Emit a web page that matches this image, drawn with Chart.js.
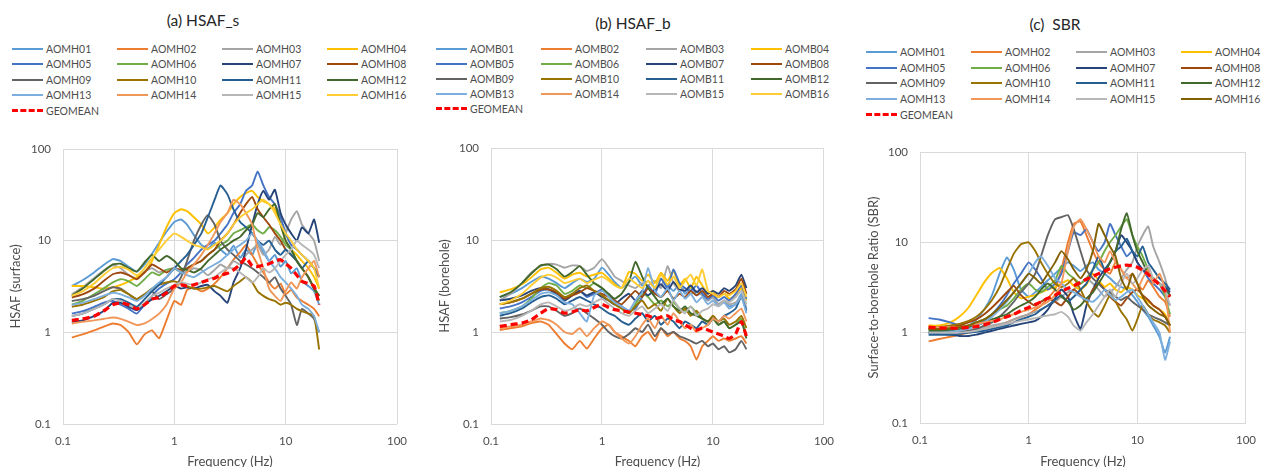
<!DOCTYPE html>
<html>
<head>
<meta charset="utf-8">
<script src="https://cdn.jsdelivr.net/npm/chart.js@4.4.1/dist/chart.umd.min.js"></script>
<style>
    body { margin: 0; width: 1266px; height: 467px; overflow: hidden; background: #fff; font-family: Lato, 'Open Sans', sans-serif; }
    .panel { position: absolute; top: 0; width: 422px; height: 476px; }
    .panel canvas { position: absolute; left: 0; top: 0; }
    .ptitle { position: absolute; width: 422px; text-align: center; font-size: 15.5px; color: #262626; line-height: 18px; }
    .legend { position: absolute; display: grid; grid-template-columns: repeat(4, 105px); }
    .legend .item { display: flex; align-items: center; font-size: 10.5px; color: #4d4d4d; white-space: nowrap; }
    .legend .swatch { width: 31px; height: 0; margin-right: 3px; }
</style>
</head>
<body>
<div class="panel" style="left:0px">
    <div class="ptitle" style="left:-8px; top:11px">(a) HSAF_s</div>
    <div class="legend" id="legendA" style="left:12px; top:41px; grid-auto-rows:15.5px"></div>
    <canvas id="chartA" width="422" height="476"></canvas>
</div>
<div class="panel" style="left:422px">
    <div class="ptitle" style="left:0px; top:14px">(b) HSAF_b</div>
    <div class="legend" id="legendB" style="left:14px; top:41px; grid-auto-rows:15px"></div>
    <canvas id="chartB" width="422" height="476"></canvas>
</div>
<div class="panel" style="left:844px">
    <div class="ptitle" style="left:0px; top:15px">(c)&nbsp; SBR</div>
    <div class="legend" id="legendC" style="left:22px; top:44px; grid-auto-rows:15.7px"></div>
    <canvas id="chartC" width="422" height="476"></canvas>
</div>

<script>
// frequencies (Hz) shared by every station curve
const freqHz = [0.12, 0.15, 0.19, 0.23, 0.28, 0.33, 0.39, 0.46, 0.54, 0.63, 0.73, 0.85, 1.0, 1.15, 1.3, 1.5, 1.75, 2.0, 2.3, 2.6, 3.0, 3.4, 3.9, 4.4, 5.0, 5.6, 6.3, 7.1, 8.0, 9.0, 10, 11.2, 12.6, 14, 16, 18, 20];
const axisTicks = [0.1, 1, 10, 100];

const surfaceNames = ['AOMH01', 'AOMH02', 'AOMH03', 'AOMH04', 'AOMH05', 'AOMH06', 'AOMH07', 'AOMH08',
    'AOMH09', 'AOMH10', 'AOMH11', 'AOMH12', 'AOMH13', 'AOMH14', 'AOMH15', 'AOMH16'];
const boreholeNames = ['AOMB01', 'AOMB02', 'AOMB03', 'AOMB04', 'AOMB05', 'AOMB06', 'AOMB07', 'AOMB08',
    'AOMB09', 'AOMB10', 'AOMB11', 'AOMB12', 'AOMB13', 'AOMB14', 'AOMB15', 'AOMB16'];

const colorsAB = ['#5B9BD5', '#ED7D31', '#A5A5A5', '#FFC000', '#4472C4', '#70AD47', '#264478', '#9E480E',
    '#636363', '#997300', '#255E91', '#43682B', '#7CAFDD', '#F1975A', '#B7B7B7', '#FFCD33'];
const colorsC = ['#5B9BD5', '#ED7D31', '#A5A5A5', '#FFC000', '#4472C4', '#70AD47', '#264478', '#9E480E',
    '#636363', '#997300', '#255E91', '#43682B', '#7CAFDD', '#F1975A', '#B7B7B7', '#806000'];

// (a) HSAF at surface
const hsafSurface = [
    [3.2,3.7,4.5,5.4,6.3,6.0,5.2,4.6,5.5,7.2,9.5,12.5,16,17,15,11.5,9,8.2,9.5,8,7,8.8,6.5,8,7,9.5,7.5,6,7,5.2,6,4.4,5,3.6,3.2,2.8,2.0],
    [0.88,0.95,1.05,1.15,1.25,1.2,1.0,0.74,0.95,1.05,0.86,1.35,2.2,2.0,2.9,3.1,2.8,3.0,3.4,4.0,5.0,6.2,7.5,9.0,7.0,5.5,4.5,3.5,3.0,3.4,2.6,2.9,2.4,2.2,2.0,1.8,1.5],
    [2.6,3.1,3.9,4.7,5.4,5.0,4.2,3.9,4.6,5.0,4.5,4.8,5.0,4.5,4.6,5.0,4.8,4.2,4.8,5.5,5.0,6.0,5.5,7.0,8.0,9.0,7.0,8.0,11,9.0,12,17,21,15,12,10,6.0],
    [3.2,3.2,3.1,3.0,3.1,3.3,3.6,4.0,4.5,6.0,9.0,14,20,22,21,18,15,12,14,17,20,25,30,33,35,30,27,25,22,15,10,8.0,7.0,6.0,5.0,4.0,3.0],
    [1.6,1.7,1.9,2.1,2.2,2.0,1.8,1.6,2.0,2.5,3.0,3.4,3.8,4.5,5.5,6.5,8.0,9.0,10,12,15,20,25,35,40,57,40,30,25,18,12,9.0,8.0,7.0,6.0,5.0,4.0],
    [2.0,2.2,2.6,3.0,3.5,3.8,3.6,3.2,3.8,4.5,4.2,4.8,5.0,4.5,5.0,5.5,6.0,7.0,8.0,9.0,10,12,13,14,15,13,12,14,13,11,9.0,8.0,6.0,5.0,4.0,3.0,2.2],
    [1.3,1.35,1.5,1.7,2.1,2.1,1.9,1.75,2.0,2.3,2.5,2.8,3.2,3.0,3.1,3.0,3.2,3.3,2.8,2.5,2.1,3.5,5.0,8.0,15,25,35,28,36,20,15,12,10,14,12,17,9.5],
    [2.4,2.6,3.0,3.6,4.3,4.5,4.2,3.8,4.5,5.5,5.0,4.5,5.0,4.8,5.0,5.5,6.0,7.0,8.0,10,12,15,20,25,30,22,18,15,12,10,8.0,7.0,6.0,5.0,4.0,3.0,2.5],
    [2.2,2.3,2.5,2.8,3.1,3.0,2.6,2.3,2.6,2.8,2.3,2.6,3.0,4.0,6.0,10,15,19,15,10,8.0,7.0,6.0,5.5,5.0,4.5,4.0,3.5,4.0,3.0,2.5,2.0,1.2,1.8,1.6,1.4,1.0],
    [1.9,2.0,2.2,2.4,2.8,2.9,2.6,2.3,2.6,3.0,3.3,3.5,3.6,3.4,3.2,3.0,3.0,3.1,3.2,3.0,2.8,3.2,3.6,4.0,3.5,2.8,2.5,2.3,2.2,2.0,2.1,2.0,1.8,1.7,1.6,1.5,0.65],
    [1.5,1.6,1.8,2.0,2.3,2.3,2.1,1.9,2.3,2.8,3.3,4.0,5.0,6.0,7.0,9.0,12,18,28,40,32,22,16,14,12,10,9.0,10,8.0,7.0,8.0,7.0,6.0,5.0,6.0,5.0,4.0],
    [2.5,3.0,3.8,4.6,5.5,5.6,5.0,4.6,5.8,7.0,6.0,6.8,6.0,5.0,4.8,4.5,5.0,6.0,7.0,8.0,9.0,10,11,13,15,20,18,22,25,15,10,8.0,6.0,5.0,4.0,3.0,2.5],
    [2.0,2.1,2.3,2.5,2.7,2.6,2.4,2.2,2.5,3.0,3.5,4.0,5.0,4.5,4.2,4.0,4.5,5.0,5.5,6.0,7.0,8.0,9.0,10,12,10,8.0,6.0,5.0,4.0,3.5,3.0,2.5,2.0,1.8,1.5,1.0],
    [1.25,1.3,1.35,1.4,1.45,1.4,1.3,1.2,1.25,1.4,1.6,2.0,3.0,3.5,4.5,5.5,7.0,9.0,12,16,20,28,25,20,15,8.0,5.0,3.0,2.5,2.2,2.8,3.5,3.0,4.0,5.0,6.0,4.0],
    [1.5,1.6,1.8,2.0,2.3,2.2,2.0,1.8,2.1,2.5,2.7,3.0,3.3,3.5,3.4,3.3,3.5,3.8,4.0,4.5,5.0,5.0,4.5,4.0,3.5,4.0,5.0,4.5,5.0,6.0,7.0,8.0,10,9.0,8.0,7.0,5.0],
    [2.5,2.8,3.4,4.2,5.0,5.2,4.8,4.2,5.0,6.5,8.0,10,12,11,10,9.0,8.5,8.0,9.0,10,12,15,18,20,22,25,28,25,20,15,12,10,8.0,7.0,6.0,5.0,3.0]
];
const hsafSurfaceGeo = [1.35,1.4,1.5,1.7,2.0,2.1,2.0,1.8,2.0,2.3,2.4,2.7,3.2,3.3,3.2,3.3,3.5,3.7,3.9,4.2,4.4,4.8,5.5,6.5,5.3,5.2,5.4,5.6,6.0,6.2,5.6,5.0,4.2,3.6,3.4,3.2,2.0];

// (b) HSAF at borehole
const hsafBorehole = [
    [2.4,2.6,3.0,3.5,4.0,3.8,3.4,3.0,3.4,3.8,3.5,3.8,5.0,4.2,3.5,3.0,3.5,4.0,3.2,3.6,3.0,3.8,3.2,2.8,3.3,2.6,3.0,2.5,2.7,2.2,2.4,2.0,2.2,1.9,2.0,2.6,1.8],
    [1.05,1.1,1.15,1.25,1.3,1.2,0.95,0.75,0.65,0.8,0.66,0.85,1.1,1.2,1.0,0.9,0.8,0.7,0.9,1.0,0.8,1.1,0.9,1.0,0.85,0.8,0.7,0.5,0.7,0.8,0.9,0.8,0.85,0.8,0.85,0.9,0.75],
    [2.2,2.6,3.4,4.4,5.2,5.5,5.4,5.0,5.3,5.2,4.6,5.0,6.2,5.0,4.0,3.6,3.2,3.0,3.4,3.2,3.6,3.0,5.2,3.4,2.8,3.0,2.6,2.8,2.5,2.2,2.4,2.0,2.2,2.0,2.1,2.4,1.8],
    [2.7,2.9,3.3,3.9,4.8,5.0,4.4,3.8,4.2,4.4,4.0,4.2,4.4,3.8,3.3,3.0,4.5,4.3,3.6,4.2,3.4,4.4,3.6,4.6,3.2,3.8,3.0,4.0,3.2,2.6,2.8,2.4,2.6,2.3,2.5,3.0,2.2],
    [1.8,1.9,2.1,2.4,2.8,2.9,2.6,2.3,2.6,2.8,2.4,2.6,2.9,2.5,2.2,1.9,1.7,1.8,2.4,3.2,2.6,3.8,3.0,4.8,3.4,3.0,2.8,3.2,2.6,2.3,2.5,2.2,2.4,2.2,2.6,3.2,2.3],
    [1.6,1.7,1.9,2.3,3.0,3.4,3.2,2.6,2.8,3.2,3.0,3.4,3.0,2.4,2.0,1.8,1.6,2.0,2.6,2.4,2.0,2.2,1.9,2.1,1.8,1.7,1.9,1.6,1.4,1.3,1.4,1.2,1.3,1.1,1.2,1.4,0.9],
    [2.2,2.3,2.5,2.8,3.0,2.9,2.6,2.2,2.5,2.8,2.5,2.7,2.4,2.2,2.0,2.3,2.6,2.2,2.8,2.5,2.9,3.3,2.8,3.5,2.9,2.8,3.2,2.7,3.0,2.6,2.8,2.6,3.0,2.8,3.2,4.2,3.0],
    [2.0,2.1,2.3,2.6,2.9,2.9,2.7,2.3,2.5,2.7,3.0,2.8,2.6,2.4,2.2,2.0,2.4,2.8,2.4,3.0,2.6,2.4,2.8,2.3,2.6,2.4,2.8,2.5,2.8,2.4,2.6,2.4,2.8,2.6,2.9,3.8,2.6],
    [1.4,1.45,1.55,1.7,1.9,1.9,1.7,1.5,1.6,1.8,1.6,1.4,1.2,1.0,0.9,0.85,0.95,1.1,1.0,1.2,0.9,1.1,0.95,1.0,0.9,0.85,0.8,0.75,0.8,0.7,0.75,0.65,0.7,0.6,0.65,0.8,0.65],
    [2.0,2.1,2.3,2.6,3.0,3.1,2.8,2.4,2.6,3.0,3.2,2.8,2.5,2.2,2.0,1.8,1.6,1.9,2.2,1.8,2.0,1.7,2.3,1.9,1.6,1.8,1.5,1.7,1.4,1.3,1.5,1.3,1.4,1.2,1.3,1.5,1.1],
    [1.5,1.6,1.8,2.1,2.4,2.5,2.3,2.0,2.2,2.4,2.2,2.0,1.8,1.6,1.5,1.3,1.2,1.4,1.6,1.3,1.5,1.2,1.4,1.3,1.1,1.3,1.2,1.1,1.3,1.2,1.4,1.3,1.5,1.6,1.8,2.4,1.7],
    [2.4,2.7,3.4,4.3,5.3,5.4,4.8,4.0,4.5,5.2,4.2,3.4,3.0,2.6,2.3,2.6,3.5,5.8,4.0,3.0,2.4,2.0,2.3,1.9,1.7,1.9,1.6,1.5,1.4,1.3,1.4,1.2,1.3,1.1,1.2,1.3,0.85],
    [1.6,1.7,1.9,2.2,2.6,2.7,2.5,2.1,2.0,1.6,1.3,2.5,2.8,2.4,2.1,1.9,1.7,2.2,2.7,5.0,2.8,2.4,3.0,2.2,2.8,2.3,2.6,2.1,2.4,2.0,2.2,1.9,2.1,1.8,2.0,2.4,1.6],
    [1.1,1.15,1.2,1.3,1.4,1.35,1.2,1.0,0.95,1.1,0.9,1.1,1.3,1.2,1.0,0.85,0.75,0.9,1.2,1.4,1.1,1.5,1.2,1.6,1.3,1.1,1.2,1.0,1.1,1.2,1.4,1.3,1.5,1.4,1.6,1.8,1.3],
    [1.3,1.35,1.5,1.7,2.0,2.1,1.9,1.7,1.8,2.0,1.9,2.1,2.3,2.0,1.8,1.6,1.5,1.7,1.9,1.6,1.8,2.0,1.7,2.2,1.8,1.6,1.9,1.5,1.7,1.8,2.0,1.9,2.2,2.1,2.4,2.8,2.0],
    [2.0,2.2,2.6,3.2,3.9,4.2,3.9,3.4,3.6,3.8,3.4,3.7,4.0,3.6,3.2,3.0,3.8,3.4,3.0,3.6,3.0,4.2,3.3,4.0,3.0,3.6,4.2,3.2,4.8,2.8,2.6,2.4,2.6,2.5,2.8,3.4,2.4]
];
const hsafBoreholeGeo = [1.15,1.2,1.25,1.35,1.6,1.8,1.75,1.6,1.65,1.75,1.7,1.85,2.0,1.85,1.75,1.7,1.65,1.6,1.55,1.5,1.4,1.45,1.5,1.35,1.3,1.2,1.1,1.05,1.1,1.05,1.0,0.95,0.9,0.85,0.95,1.3,0.9];

// (c) surface-to-borehole ratio
const sbr = [
    [1.0,1.0,1.05,1.1,1.2,1.4,1.8,2.6,4.5,6.8,5.0,3.0,2.5,2.8,3.2,3.8,4.5,5.2,6.0,5.5,4.8,5.5,6.0,5.0,4.5,4.0,3.5,3.2,3.0,2.6,2.2,1.8,1.5,1.2,0.9,0.6,0.9],
    [0.8,0.85,0.9,0.95,1.0,1.05,1.1,1.15,1.2,1.3,1.4,1.5,1.6,1.8,2.0,2.4,3.0,5.0,10,16,17,12,8.0,6.0,5.0,4.5,6.0,5.0,4.0,4.5,3.5,3.0,3.8,3.2,2.5,2.2,1.5],
    [1.0,1.0,1.0,1.02,1.05,1.1,1.15,1.2,1.25,1.3,1.4,1.5,1.6,1.7,1.8,2.0,2.2,2.5,2.8,3.0,3.5,4.0,3.5,3.0,2.5,2.8,3.2,4.0,5.0,6.0,9.0,12,15,9.0,6.0,4.0,2.5],
    [1.2,1.2,1.3,1.5,1.9,2.6,3.6,4.6,5.2,4.0,2.8,2.4,2.5,2.6,2.8,3.0,3.2,3.5,3.8,3.3,3.0,3.4,4.5,3.8,3.2,3.5,3.0,2.8,3.2,3.0,2.6,2.4,2.2,2.0,1.8,1.6,1.2],
    [1.45,1.4,1.3,1.2,1.15,1.2,1.35,1.6,2.0,2.6,3.5,4.5,6.0,5.0,4.0,3.0,3.5,4.5,8.0,13,12,14,10,8.0,10,16,12,9.0,7.0,8.0,6.0,5.0,4.0,3.5,3.0,2.5,2.0],
    [1.1,1.1,1.1,1.15,1.2,1.3,1.4,1.6,1.8,2.0,2.4,3.0,3.5,3.0,2.8,3.2,3.8,5.5,4.5,4.0,3.5,4.0,5.0,6.0,8.0,10,12,15,18,12,9.0,7.0,5.0,4.0,3.5,2.5,1.6],
    [1.0,0.98,0.95,0.92,0.92,0.95,1.0,1.05,1.1,1.15,1.2,1.25,1.3,1.35,1.5,1.8,2.4,3.0,2.5,1.6,1.1,2.0,3.0,4.0,5.0,6.0,8.0,12,10,8.0,6.0,5.0,4.5,4.0,3.5,3.2,2.8],
    [1.1,1.1,1.15,1.2,1.3,1.4,1.6,1.9,2.3,2.8,3.3,2.6,2.2,2.0,2.2,2.4,2.2,2.0,2.5,3.0,2.6,2.2,3.0,3.5,3.0,2.5,2.2,2.0,2.4,2.8,3.0,2.6,2.3,2.0,1.8,1.5,1.2],
    [1.0,1.0,1.0,1.02,1.05,1.1,1.2,1.3,1.5,1.8,2.2,2.8,3.5,4.5,7.0,12,18,19,20,14,8.0,5.0,4.0,3.5,3.0,2.8,2.5,2.3,2.5,2.2,2.0,1.8,1.6,1.5,1.4,1.3,1.2],
    [1.15,1.15,1.2,1.25,1.35,1.5,1.8,2.3,3.2,5.0,7.5,9.5,10,8.0,6.0,4.5,3.5,3.2,3.5,4.0,3.0,2.2,1.7,1.5,2.0,2.6,2.2,1.7,1.4,1.05,1.4,2.0,1.6,1.4,1.3,1.2,1.0],
    [0.95,0.95,0.95,0.97,1.0,1.02,1.05,1.1,1.15,1.2,1.3,1.4,1.5,1.6,1.8,2.0,2.3,2.6,2.2,2.5,3.0,3.5,5.0,7.0,5.0,6.0,8.0,9.0,11,8.0,7.0,9.0,6.0,5.0,4.0,3.5,3.0],
    [1.05,1.05,1.08,1.1,1.15,1.2,1.3,1.4,1.5,1.6,1.8,2.0,2.2,2.5,3.0,3.5,3.0,2.5,2.2,1.8,2.0,2.4,2.8,3.5,4.5,6.0,8.0,14,21,12,8.0,6.0,4.5,4.0,3.5,3.0,2.6],
    [1.0,1.0,1.0,1.05,1.1,1.2,1.3,1.5,1.8,2.2,2.8,3.5,4.5,6.0,7.0,5.5,4.0,3.5,3.0,2.8,2.5,2.3,2.2,2.5,3.0,2.6,2.3,2.5,2.8,3.0,2.5,2.0,1.6,1.3,1.0,0.5,0.8],
    [1.15,1.15,1.15,1.15,1.2,1.25,1.3,1.35,1.4,1.5,1.6,1.7,1.8,1.9,2.0,2.2,2.6,3.5,8.0,15,18,14,10,7.0,6.0,8.0,6.0,5.0,4.0,3.5,3.0,4.0,5.0,3.5,4.5,3.0,1.0],
    [1.0,1.0,1.0,1.0,1.02,1.05,1.1,1.15,1.2,1.25,1.3,1.35,1.4,1.45,1.5,1.55,1.6,1.7,1.5,1.2,1.05,1.3,1.6,2.0,2.5,3.0,2.5,3.5,4.5,3.5,4.0,5.0,5.5,4.0,3.5,3.0,2.0],
    [1.1,1.1,1.12,1.15,1.2,1.3,1.4,1.6,1.9,2.3,2.8,3.5,4.5,4.0,3.5,4.5,6.0,8.0,6.5,5.0,4.0,5.0,8.0,16,12,9.0,7.0,4.0,3.0,4.5,3.5,2.5,2.0,1.8,1.6,1.5,1.2]
];
const sbrGeo = [1.15,1.13,1.12,1.12,1.14,1.17,1.22,1.3,1.4,1.5,1.6,1.75,1.9,2.05,2.2,2.4,2.6,2.85,3.1,3.3,3.6,3.9,4.2,4.5,4.8,5.1,5.3,5.5,5.6,5.5,5.3,4.9,4.4,3.9,3.4,2.9,2.5];

// build line datasets: stations first, geomean last but drawn on top
function makeDatasets(names, series, geo, colors) {
    const sets = series.map((vals, i) => ({
        label: names[i],
        data: freqHz.map((f, k) => ({ x: f, y: vals[k] })),
        borderColor: colors[i],
        borderWidth: 1.9,
        order: 20 - i,
    }));
    sets.push({
        label: 'GEOMEAN',
        data: freqHz.map((f, k) => ({ x: f, y: geo[k] })),
        borderColor: '#FF0000',
        borderWidth: 3.2,
        borderDash: [7, 4],
        order: 0,
    });
    return sets;
}

function buildLegend(chart, elId) {
    const el = document.getElementById(elId);
    el.innerHTML = chart.data.datasets
        .map((ds) => {
            const w = ds.borderDash ? 3 : 2;
            const style = ds.borderDash ? 'dashed' : 'solid';
            return `<div class="item"><span class="swatch" style="border-top:${w}px ${style} ${ds.borderColor}"></span>${ds.label}</div>`;
        })
        .join('');
}

function makeChart(canvasId, legendId, datasets, yTitle, opts) {
    const gridColor = '#D9D9D9';
    const tickFont = { family: 'Lato', size: 11.5 };
    const titleFont = { family: 'Lato', size: 13 };
    const chart = new Chart(document.getElementById(canvasId), {
        type: 'line',
        data: { datasets },
        options: {
            responsive: false,
            animation: false,
            layout: { padding: { top: opts.top, left: 0, right: opts.right, bottom: 0 } },
            elements: { point: { radius: 0 }, line: { tension: 0.15 } },
            plugins: { legend: { display: false }, tooltip: { enabled: false } },
            scales: {
                x: {
                    type: 'logarithmic',
                    min: 0.1,
                    max: 100,
                    afterBuildTicks: (s) => { s.ticks = axisTicks.map((v) => ({ value: v })); },
                    afterFit: (s) => { s.height = 476 - opts.bottom; },
                    ticks: { callback: (v) => String(v), color: '#4d4d4d', font: tickFont, padding: 10, maxRotation: 0 },
                    grid: { color: gridColor, drawTicks: false },
                    border: { display: false },
                    title: { display: true, text: 'Frequency (Hz)', color: '#4d4d4d', font: titleFont, padding: { top: 0, bottom: 6 } },
                },
                y: {
                    type: 'logarithmic',
                    min: 0.1,
                    max: 100,
                    afterBuildTicks: (s) => { s.ticks = axisTicks.map((v) => ({ value: v })); },
                    afterFit: (s) => { s.width = opts.left; },
                    ticks: { callback: (v) => String(v), color: '#4d4d4d', font: tickFont, padding: 12 },
                    grid: { color: gridColor, drawTicks: false },
                    border: { display: false },
                    title: { display: true, text: yTitle, color: '#4d4d4d', font: titleFont, padding: { top: opts.titlePad, bottom: 0 } },
                },
            },
        },
    });
    buildLegend(chart, legendId);
    return chart;
}

makeChart('chartA', 'legendA', makeDatasets(surfaceNames, hsafSurface, hsafSurfaceGeo, colorsAB), 'HSAF (surface)',
    { top: 149, right: 25, bottom: 424, left: 63, titlePad: 8 });
makeChart('chartB', 'legendB', makeDatasets(boreholeNames, hsafBorehole, hsafBoreholeGeo, colorsAB), 'HSAF (borehole)',
    { top: 148, right: 19, bottom: 424, left: 69, titlePad: 15 });
makeChart('chartC', 'legendC', makeDatasets(surfaceNames, sbr, sbrGeo, colorsC), 'Surface-to-borehole Ratio (SBR)',
    { top: 152, right: 12, bottom: 423, left: 76, titlePad: 22 });
</script>
</body>
</html>
